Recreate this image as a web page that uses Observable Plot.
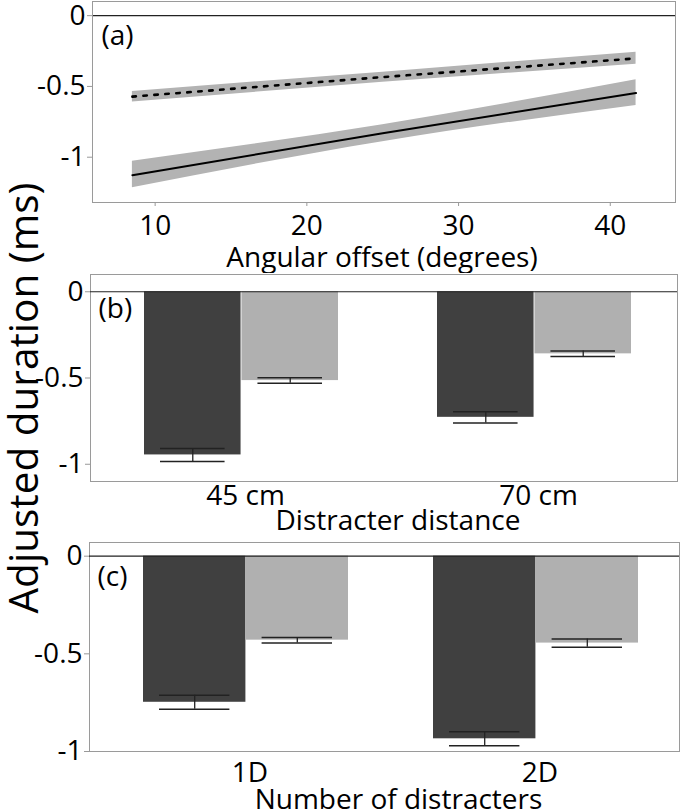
<!DOCTYPE html>
<html><head><meta charset="utf-8">
<script src="https://cdn.jsdelivr.net/npm/d3@7"></script>
<script src="https://cdn.jsdelivr.net/npm/@observablehq/plot@0.6"></script>
<style>
body{margin:0;background:#fff;}
#wrap{position:relative;width:680px;height:809px;font-family:"Open Sans",sans-serif;overflow:hidden;}
.panel{position:absolute;left:0;}
#ytitle{position:absolute;left:0;top:0;pointer-events:none;overflow:visible;}
</style></head><body><div id="wrap"></div>
<script>
// ---------- Panel (a): regression lines with confidence bands ----------
const angles = [8.5, 25, 41.7];
const solidLine = [-1.127, -0.83, -0.547];
const solidLo   = [-1.216, -0.89, -0.634];
const solidHi   = [-1.028, -0.77, -0.453];
const dottedLine = [-0.572, -0.434, -0.302];
const dottedLo   = [-0.61, -0.47, -0.343];
const dottedHi   = [-0.535, -0.399, -0.258];
const angleTicks = [10, 20, 30, 40];

// ---------- Panel (b): distracter distance ----------
const distCats = ["45 cm", "70 cm"];
const distDark = [-0.946, -0.728];
const distDarkErr = [0.038, 0.033];
const distLight = [-0.515, -0.36];
const distLightErr = [0.016, 0.016];

// ---------- Panel (c): number of distracters ----------
const numCats = ["1D", "2D"];
const numDark = [-0.748, -0.935];
const numDarkErr = [0.036, 0.036];
const numLight = [-0.43, -0.445];
const numLightErr = [0.014, 0.021];

const seriesNames = ["dark", "light"];
const yTicks = [0, -0.5, -1];
const panelLetters = ["(a)", "(b)", "(c)"];
const axisTitles = ["Angular offset (degrees)", "Distracter distance", "Number of distracters"];
const yTitle = "Adjusted duration (ms)";

const FONT = "Open Sans";
const fmt = d => d === 0 ? "0" : String(d);
const baseStyle = {fontFamily: FONT, fontSize: "28px", color: "#000", background: "#fff", overflow: "visible"};

const wrap = document.getElementById("wrap");
function place(svg, top) {
  const d = document.createElement("div");
  d.className = "panel";
  d.style.top = top + "px";
  d.appendChild(svg);
  wrap.appendChild(d);
}

// Panel (a)
const lineRows = angles.map((a, i) => ({
  angle: a, solid: solidLine[i], solidLo: solidLo[i], solidHi: solidHi[i],
  dotted: dottedLine[i], dottedLo: dottedLo[i], dottedHi: dottedHi[i]
}));
const pa = Plot.plot({
  width: 680, height: 273, marginLeft: 92, marginRight: 5, marginTop: 1, marginBottom: 71,
  style: baseStyle,
  x: {domain: [5.87, 44.3]},
  y: {domain: [-1.32, 0.1]},
  marks: [
    Plot.areaY(lineRows, {x: "angle", y1: "solidLo", y2: "solidHi", fill: "#b3b3b3", curve: "monotone-x"}),
    Plot.areaY(lineRows, {x: "angle", y1: "dottedLo", y2: "dottedHi", fill: "#b3b3b3"}),
    Plot.ruleY([0], {stroke: "#222", strokeWidth: 1.2}),
    Plot.line(lineRows, {x: "angle", y: "solid", stroke: "#000", strokeWidth: 2}),
    Plot.line(lineRows, {x: "angle", y: "dotted", stroke: "#000", strokeWidth: 2.6, strokeDasharray: "3.5 7.5"}),
    Plot.frame({stroke: "#9a9a9a"}),
    Plot.axisX({ticks: angleTicks, tickSize: 4, tickPadding: 9, stroke: "#999", label: null}),
    Plot.axisY({ticks: yTicks, tickFormat: fmt, tickSize: 5, tickPadding: 2, stroke: "#999", label: null}),
    Plot.text([axisTitles[0]], {frameAnchor: "bottom", dx: -2, dy: 45, lineAnchor: "top"}),
    Plot.text([panelLetters[0]], {frameAnchor: "top-left", dx: 9, dy: 35, textAnchor: "start", lineAnchor: "middle"})
  ]
});
place(pa, 0);

function barPanel(o) {
  const dark = o.cats.map((c, i) => ({cat: c, series: seriesNames[0], v: o.dark[i], lo: o.dark[i] - o.darkErr[i], hi: o.dark[i] + o.darkErr[i]}));
  const light = o.cats.map((c, i) => ({cat: c, series: seriesNames[1], v: o.light[i], lo: o.light[i] - o.lightErr[i], hi: o.light[i] + o.lightErr[i]}));
  // band geometry, same as the Plot band scale below
  const band = d3.scaleBand().domain(o.cats).range([o.ml, 680 - o.mr])
    .paddingInner(o.pi).paddingOuter(o.po).align(o.align);
  const half = band.bandwidth() / 2;
  const cap = 16;
  const err = (rows, side) => [
    Plot.ruleX(rows, {x: "cat", y1: "lo", y2: "hi", dx: side * half / 2, stroke: "#222", strokeWidth: 1.3}),
    Plot.tickY(rows, {x: "cat", y: "lo", insetLeft: side < 0 ? cap : half + cap, insetRight: side < 0 ? half + cap : cap, stroke: "#222", strokeWidth: 1.5}),
    Plot.tickY(rows, {x: "cat", y: "hi", insetLeft: side < 0 ? cap : half + cap, insetRight: side < 0 ? half + cap : cap, stroke: "#222", strokeWidth: 1.5})
  ];
  return Plot.plot({
    width: 680, height: 268, marginLeft: o.ml, marginRight: o.mr, marginTop: 1, marginBottom: o.mb,
    style: baseStyle,
    x: {domain: o.cats, paddingInner: o.pi, paddingOuter: o.po, align: o.align},
    y: {domain: o.ydom},
    color: {domain: seriesNames, range: ["#404040", "#b0b0b0"]},
    marks: [
      Plot.barY(dark, {x: "cat", y: "v", fill: "series", insetRight: half}),
      Plot.barY(light, {x: "cat", y: "v", fill: "series", insetLeft: half}),
      Plot.frame({stroke: "#9a9a9a"}),
      Plot.ruleY([0], {stroke: "#222", strokeWidth: 1.2}),
      ...err(dark, -1),
      ...err(light, 1),
      Plot.axisY({ticks: yTicks, tickFormat: fmt, tickSize: 5, tickPadding: 2, stroke: "#999", label: null}),
      Plot.axisX({tickSize: 0, tickPadding: o.tp, dx: 4, label: null}),
      Plot.text([o.title], {frameAnchor: "bottom", dx: 14, dy: o.titleDy, lineAnchor: "top"}),
      Plot.text([o.letter], {frameAnchor: "top-left", dx: 8, dy: 35, textAnchor: "start", lineAnchor: "middle"})
    ]
  });
}

place(barPanel({cats: distCats, dark: distDark, darkErr: distDarkErr, light: distLight, lightErr: distLightErr,
  ml: 90, mr: 3, mb: 60, pi: 0.337, po: 0.167, align: 0.54, ydom: [-1.1, 0.1], tp: 4,
  title: axisTitles[1], titleDy: 29, letter: panelLetters[1]}), 273);

place(barPanel({cats: numCats, dark: numDark, darkErr: numDarkErr, light: numLight, lightErr: numLightErr,
  ml: 89, mr: 1, mb: 58, pi: 0.294, po: 0.162, align: 0.57, ydom: [-1.0, 0.07], tp: 11,
  title: axisTitles[2], titleDy: 38, letter: panelLetters[2]}), 541);

// shared y-axis title
const ns = "http://www.w3.org/2000/svg";
const ys = document.createElementNS(ns, "svg");
ys.setAttribute("id", "ytitle");
ys.setAttribute("width", 60);
ys.setAttribute("height", 809);
const t = document.createElementNS(ns, "text");
t.setAttribute("transform", "translate(38,398) rotate(-90)");
t.setAttribute("text-anchor", "middle");
t.setAttribute("font-family", FONT);
t.setAttribute("font-size", "40.5px");
t.textContent = yTitle;
ys.appendChild(t);
wrap.appendChild(ys);
</script>
</body></html>
